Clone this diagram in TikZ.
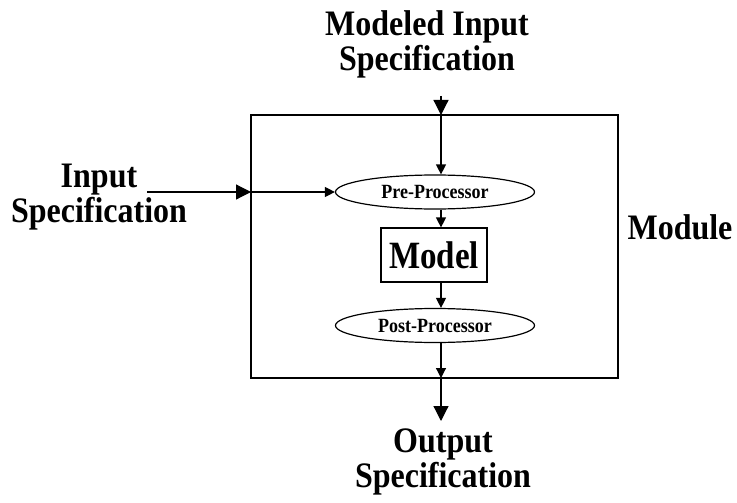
\documentclass[tikz,border=0pt]{standalone}
\usepackage{fontspec}
\setmainfont{Liberation Serif}
\usepackage{graphicx}
\usetikzlibrary{arrows.meta,shapes.geometric}
\newcommand{\vst}[2]{\scalebox{1}[#1]{#2}}
\tikzset{
  biglabel/.style={inner sep=0pt, align=center, font=\bfseries\fontsize{32}{35}\selectfont},
  procell/.style={draw, ellipse, line width=1.2pt, inner sep=0pt, minimum width=199pt, minimum height=34pt, font=\bfseries\fontsize{18}{20}\selectfont},
  modelbox/.style={draw, rectangle, line width=1.2pt, inner sep=0pt, minimum width=106pt, minimum height=54pt, font=\bfseries\fontsize{33}{36}\selectfont},
  bigarrow/.style={line width=1.2pt, -{Triangle[length=15pt,width=15pt]}},
  smallarrow/.style={line width=1.2pt, -{Triangle[length=10pt,width=10pt]}},
}
\begin{document}
\begin{tikzpicture}[x=1pt,y=-1pt]
\useasboundingbox (0,0) rectangle (737,503);
% module box
\node[draw, rectangle, line width=1.2pt, minimum width=367pt, minimum height=263pt, inner sep=0pt] (module) at (434.5,246.5) {};
\node[biglabel, anchor=base] (modlabel) at (680,239) {\vst{1.12}{Module}};
% inner nodes
\node[procell] (pre) at (435,192) {\vst{1.12}{Pre-Processor}};
\node[modelbox] (model) at (434,255) {\vst{1.17}{Model}};
\node[procell] (post) at (435,325.5) {\vst{1.12}{Post-Processor}};
% labels
\node[biglabel] (mis) at (427,44) {\vst{1.12}{Modeled Input}\\\vst{1.12}{Specification}};
\node[biglabel] (ins) at (99,197) {\vst{1.12}{Input}\\\vst{1.12}{Specification}};
\node[biglabel] (outs) at (443,462) {\vst{1.12}{Output}\\\vst{1.12}{Specification}};
% coordinates
\coordinate (mstart) at (441,96);
\coordinate (btop) at (441,115);
\coordinate (istart) at (147,192);
\coordinate (bleft) at (251,192);
\coordinate (bbot) at (441,378);
\coordinate (oend) at (441,421);
% connectors
\draw[bigarrow] (mstart) -- (btop);
\draw[smallarrow] (btop) -- (btop |- pre.north);
\draw[bigarrow] (istart) -- (bleft);
\draw[smallarrow] (bleft) -- (pre.west);
\draw[smallarrow] (btop |- pre.south) -- (btop |- model.north);
\draw[smallarrow] (btop |- model.south) -- (btop |- post.north);
\draw[smallarrow] (btop |- post.south) -- (bbot);
\draw[bigarrow] (bbot) -- (oend);
\end{tikzpicture}
\end{document}
